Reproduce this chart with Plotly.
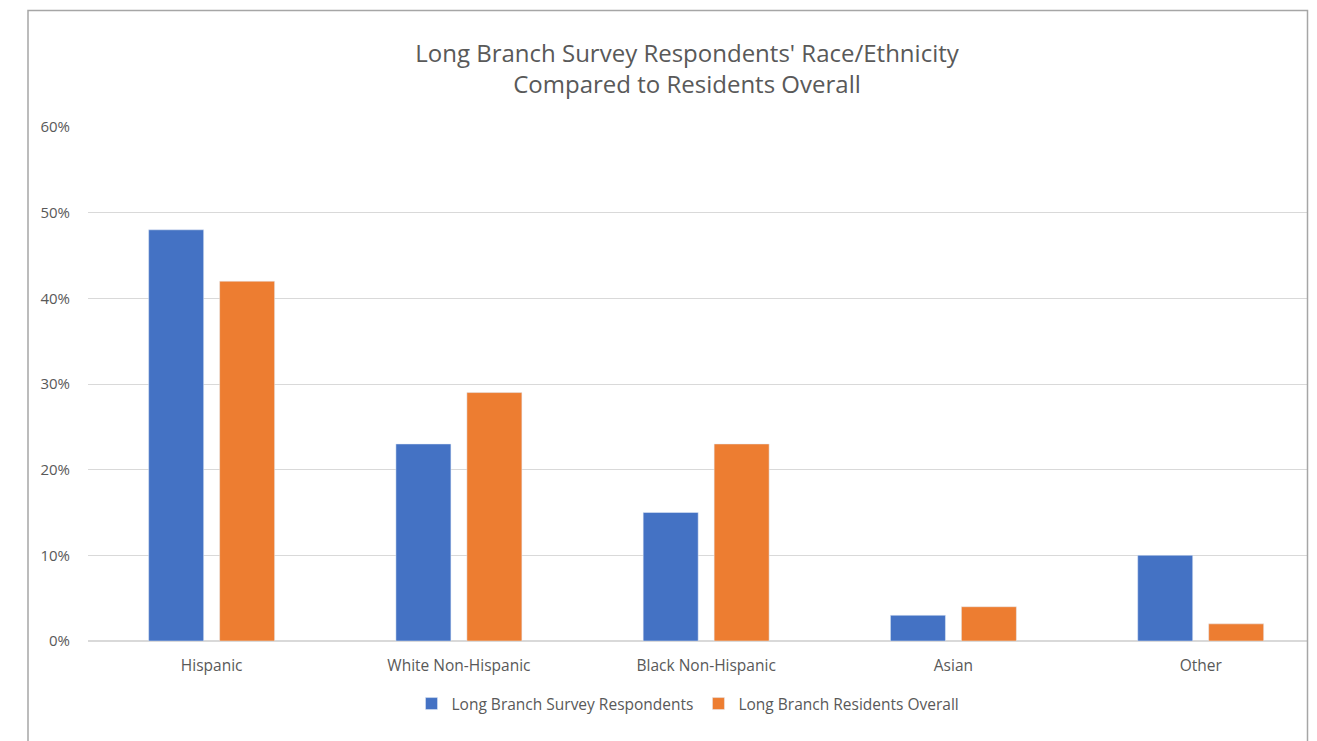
import plotly.graph_objects as go

categories = ["Hispanic", "White Non-Hispanic", "Black Non-Hispanic", "Asian", "Other"]
respondents = [0.48, 0.23, 0.15, 0.03, 0.10]
residents = [0.42, 0.29, 0.23, 0.04, 0.02]
series_names = ["Long Branch Survey Respondents", "Long Branch Residents Overall"]
title_text = "Long Branch Survey Respondents' Race/Ethnicity<br>Compared to Residents Overall"

W, H = 1317, 741
L, R, T, B = 88, 9, 127, 100
pw = W - L - R
ph = H - T - B

font_fam = "Open Sans, Noto Sans, sans-serif"
gray = "#595959"

fig = go.Figure()
fig.add_trace(go.Bar(x=categories, y=respondents, name=series_names[0], marker_color="#4472C4"))
fig.add_trace(go.Bar(x=categories, y=residents, name=series_names[1], marker_color="#ED7D31"))

fig.update_layout(
    width=W, height=H,
    margin=dict(l=L, r=R, t=T, b=B),
    paper_bgcolor="white", plot_bgcolor="white",
    barmode="group", bargap=0.426, bargroupgap=0.225,
    title=dict(text=title_text, x=687 / W, xanchor="center", y=1 - 62 / H, yanchor="middle",
               font=dict(family=font_fam, size=24, color=gray)),
    font=dict(family=font_fam, color=gray, size=15),
    xaxis=dict(showgrid=False, showline=False, ticks="", tickfont=dict(size=15.5, color=gray),
               ticklabelstandoff=13, range=[-0.5, 4.434]),
    yaxis=dict(range=[0, 0.6], dtick=0.1, tickformat=".0%", showgrid=True, gridcolor="#d9d9d9",
               gridwidth=1, zeroline=True, zerolinecolor="#d9d9d9", showline=False, ticks="",
               tickfont=dict(size=15, color=gray), ticklabelstandoff=17),
    legend=dict(orientation="h", x=(688 - L) / pw, xanchor="center", y=-(704 - 641) / ph, yanchor="middle",
                font=dict(size=15.5, color=gray), itemwidth=30, traceorder="normal"),
    showlegend=True,
)

fig.add_shape(type="rect", xref="paper", yref="paper",
              x0=(28 - L) / pw, x1=(1307.5 - L) / pw,
              y0=-(770 - (H - B)) / ph, y1=1 + (T - 10.5) / ph,
              line=dict(color="#a6a6a6", width=1.5), fillcolor="rgba(0,0,0,0)", layer="above")

fig.write_html("out.html", config={"displayModeBar": False},
               post_script="document.body.style.margin='0';document.body.style.overflow='hidden';")
